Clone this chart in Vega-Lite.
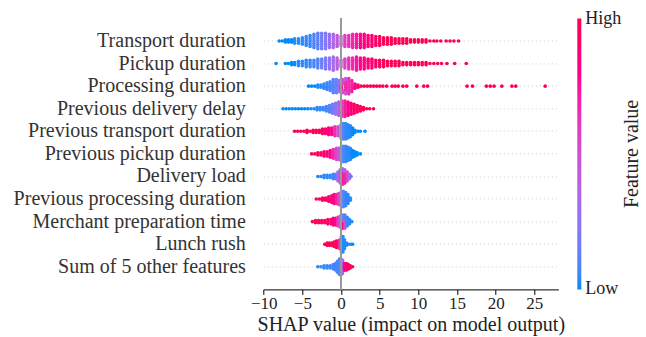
{
  "$schema": "https://vega.github.io/schema/vega-lite/v6.json",
  "autosize": {"type": "none"},
  "padding": {"left": 263.3, "top": 18.4, "right": 87.7, "bottom": 47.6},
  "width": 295,
  "height": 271,
  "background": "white",
  "config": {
    "font": "Liberation Serif",
    "view": {"stroke": null},
    "style": {
      "guide-label": {"font": "Liberation Serif"},
      "guide-title": {"font": "Liberation Serif"}
    },
    "axis": {"labelFont": "Liberation Serif", "titleFont": "Liberation Serif"},
    "legend": {"labelFont": "Liberation Serif", "titleFont": "Liberation Serif"},
    "title": {"font": "Liberation Serif"}
  },
  "title": {
    "text": "Feature value",
    "orient": "right",
    "angle": 270,
    "baseline": "top",
    "frame": "group",
    "anchor": "middle",
    "offset": -19,
    "font": "Liberation Serif",
    "fontSize": 20,
    "fontWeight": "normal",
    "color": "#222222"
  },
  "data": {
    "values": [
      {"f": "Transport duration", "x": -8.0, "j": [0], "c": 0},
      {"f": "Transport duration", "x": -7.6, "j": [0], "c": 0},
      {"f": "Transport duration", "x": -7.2, "j": [-1, 1], "c": 0},
      {"f": "Transport duration", "x": -6.8, "j": [-1, 1], "c": 0},
      {"f": "Transport duration", "x": -6.4, "j": [-1, 1], "c": 0},
      {"f": "Transport duration", "x": -6.0, "j": [-2, 0, 2], "c": 0.02},
      {"f": "Transport duration", "x": -5.5, "j": [-2, 0, 2], "c": 0.02},
      {"f": "Transport duration", "x": -5.0, "j": [-3, -1, 1, 3], "c": 0.03},
      {"f": "Transport duration", "x": -4.5, "j": [-4, -2, 0, 2, 4], "c": 0.04},
      {"f": "Transport duration", "x": -4.0, "j": [-5, -3, -1, 1, 3, 5], "c": 0.05},
      {"f": "Transport duration", "x": -3.5, "j": [-6, -4, -2, 0, 2, 4, 6], "c": 0.08},
      {"f": "Transport duration", "x": -3.0, "j": [-7, -5, -3, -1, 1, 3, 5, 7], "c": 0.12},
      {"f": "Transport duration", "x": -2.5, "j": [-7, -5, -3, -1, 1, 3, 5, 7], "c": 0.17},
      {"f": "Transport duration", "x": -2.0, "j": [-7, -5, -3, -1, 1, 3, 5, 7], "c": 0.22},
      {"f": "Transport duration", "x": -1.5, "j": [-6, -4, -2, 0, 2, 4, 6], "c": 0.28},
      {"f": "Transport duration", "x": -1.0, "j": [-6, -4, -2, 0, 2, 4, 6], "c": 0.35},
      {"f": "Transport duration", "x": -0.5, "j": [-5, -3, -1, 1, 3, 5], "c": 0.42},
      {"f": "Transport duration", "x": 0.0, "j": [-4, -2, 0, 2, 4], "c": 0.5},
      {"f": "Transport duration", "x": 0.5, "j": [-5, -3, -1, 1, 3, 5], "c": 0.57},
      {"f": "Transport duration", "x": 1.0, "j": [-5, -3, -1, 1, 3, 5], "c": 0.63},
      {"f": "Transport duration", "x": 1.5, "j": [-6, -4, -2, 0, 2, 4, 6], "c": 0.68},
      {"f": "Transport duration", "x": 2.0, "j": [-6, -4, -2, 0, 2, 4, 6], "c": 0.73},
      {"f": "Transport duration", "x": 2.5, "j": [-6, -4, -2, 0, 2, 4, 6], "c": 0.78},
      {"f": "Transport duration", "x": 3.0, "j": [-6, -4, -2, 0, 2, 4, 6], "c": 0.82},
      {"f": "Transport duration", "x": 3.5, "j": [-5, -3, -1, 1, 3, 5], "c": 0.86},
      {"f": "Transport duration", "x": 4.0, "j": [-5, -3, -1, 1, 3, 5], "c": 0.9},
      {"f": "Transport duration", "x": 4.5, "j": [-4, -2, 0, 2, 4], "c": 0.93},
      {"f": "Transport duration", "x": 5.0, "j": [-4, -2, 0, 2, 4], "c": 0.96},
      {"f": "Transport duration", "x": 5.5, "j": [-3, -1, 1, 3], "c": 0.97},
      {"f": "Transport duration", "x": 6.0, "j": [-3, -1, 1, 3], "c": 0.98},
      {"f": "Transport duration", "x": 6.5, "j": [-3, -1, 1, 3], "c": 1},
      {"f": "Transport duration", "x": 7.0, "j": [-2, 0, 2], "c": 1},
      {"f": "Transport duration", "x": 7.5, "j": [-2, 0, 2], "c": 1},
      {"f": "Transport duration", "x": 8.0, "j": [-2, 0, 2], "c": 1},
      {"f": "Transport duration", "x": 8.5, "j": [-2, 0, 2], "c": 1},
      {"f": "Transport duration", "x": 9.0, "j": [-1, 1], "c": 1},
      {"f": "Transport duration", "x": 9.5, "j": [-1, 1], "c": 1},
      {"f": "Transport duration", "x": 10.0, "j": [-1, 1], "c": 1},
      {"f": "Transport duration", "x": 10.5, "j": [-1, 1], "c": 1},
      {"f": "Transport duration", "x": 11.0, "j": [-1, 1], "c": 1},
      {"f": "Transport duration", "x": 11.5, "j": [0], "c": 1},
      {"f": "Transport duration", "x": 12.0, "j": [0], "c": 1},
      {"f": "Transport duration", "x": 12.4, "j": [0], "c": 1},
      {"f": "Transport duration", "x": 12.9, "j": [0], "c": 1},
      {"f": "Transport duration", "x": 13.6, "j": [0], "c": 1},
      {"f": "Transport duration", "x": 14.1, "j": [0], "c": 1},
      {"f": "Transport duration", "x": 14.6, "j": [0], "c": 1},
      {"f": "Transport duration", "x": 15.2, "j": [0], "c": 1},

      {"f": "Pickup duration", "x": -8.4, "j": [0], "c": 0},
      {"f": "Pickup duration", "x": -7.2, "j": [0], "c": 0},
      {"f": "Pickup duration", "x": -6.8, "j": [0], "c": 0},
      {"f": "Pickup duration", "x": -6.4, "j": [-1, 1], "c": 0},
      {"f": "Pickup duration", "x": -6.0, "j": [-1, 1], "c": 0},
      {"f": "Pickup duration", "x": -5.5, "j": [-2, 0, 2], "c": 0.02},
      {"f": "Pickup duration", "x": -5.0, "j": [-2, 0, 2], "c": 0.03},
      {"f": "Pickup duration", "x": -4.5, "j": [-3, -1, 1, 3], "c": 0.04},
      {"f": "Pickup duration", "x": -4.0, "j": [-3, -1, 1, 3], "c": 0.05},
      {"f": "Pickup duration", "x": -3.5, "j": [-3, -1, 1, 3], "c": 0.07},
      {"f": "Pickup duration", "x": -3.0, "j": [-4, -2, 0, 2, 4], "c": 0.1},
      {"f": "Pickup duration", "x": -2.5, "j": [-4, -2, 0, 2, 4], "c": 0.14},
      {"f": "Pickup duration", "x": -2.0, "j": [-5, -3, -1, 1, 3, 5], "c": 0.2},
      {"f": "Pickup duration", "x": -1.5, "j": [-5, -3, -1, 1, 3, 5], "c": 0.26},
      {"f": "Pickup duration", "x": -1.0, "j": [-6, -4, -2, 0, 2, 4, 6], "c": 0.33},
      {"f": "Pickup duration", "x": -0.5, "j": [-5, -3, -1, 1, 3, 5], "c": 0.4},
      {"f": "Pickup duration", "x": 0.0, "j": [-3, -1, 1, 3], "c": 0.48},
      {"f": "Pickup duration", "x": 0.5, "j": [-4, -2, 0, 2, 4], "c": 0.55},
      {"f": "Pickup duration", "x": 1.0, "j": [-5, -3, -1, 1, 3, 5], "c": 0.62},
      {"f": "Pickup duration", "x": 1.5, "j": [-5, -3, -1, 1, 3, 5], "c": 0.68},
      {"f": "Pickup duration", "x": 2.0, "j": [-6, -4, -2, 0, 2, 4, 6], "c": 0.73},
      {"f": "Pickup duration", "x": 2.5, "j": [-5, -3, -1, 1, 3, 5], "c": 0.78},
      {"f": "Pickup duration", "x": 3.0, "j": [-5, -3, -1, 1, 3, 5], "c": 0.83},
      {"f": "Pickup duration", "x": 3.5, "j": [-4, -2, 0, 2, 4], "c": 0.87},
      {"f": "Pickup duration", "x": 4.0, "j": [-4, -2, 0, 2, 4], "c": 0.9},
      {"f": "Pickup duration", "x": 4.5, "j": [-3, -1, 1, 3], "c": 0.93},
      {"f": "Pickup duration", "x": 5.0, "j": [-3, -1, 1, 3], "c": 0.96},
      {"f": "Pickup duration", "x": 5.5, "j": [-3, -1, 1, 3], "c": 0.98},
      {"f": "Pickup duration", "x": 6.0, "j": [-2, 0, 2], "c": 1},
      {"f": "Pickup duration", "x": 6.5, "j": [-2, 0, 2], "c": 1},
      {"f": "Pickup duration", "x": 7.0, "j": [-2, 0, 2], "c": 1},
      {"f": "Pickup duration", "x": 7.5, "j": [-2, 0, 2], "c": 1},
      {"f": "Pickup duration", "x": 8.0, "j": [-1, 1], "c": 1},
      {"f": "Pickup duration", "x": 8.5, "j": [-1, 1], "c": 1},
      {"f": "Pickup duration", "x": 9.0, "j": [-1, 1], "c": 1},
      {"f": "Pickup duration", "x": 9.5, "j": [-1, 1], "c": 1},
      {"f": "Pickup duration", "x": 10.0, "j": [-1, 1], "c": 1},
      {"f": "Pickup duration", "x": 10.5, "j": [-1, 1], "c": 1},
      {"f": "Pickup duration", "x": 11.0, "j": [-1, 1], "c": 1},
      {"f": "Pickup duration", "x": 11.5, "j": [0], "c": 1},
      {"f": "Pickup duration", "x": 12.0, "j": [0], "c": 1},
      {"f": "Pickup duration", "x": 12.5, "j": [0], "c": 1},
      {"f": "Pickup duration", "x": 13.0, "j": [0], "c": 1},
      {"f": "Pickup duration", "x": 13.7, "j": [0], "c": 1},
      {"f": "Pickup duration", "x": 14.7, "j": [0], "c": 1},
      {"f": "Pickup duration", "x": 16.2, "j": [0], "c": 1},

      {"f": "Processing duration", "x": -4.2, "j": [0], "c": 0},
      {"f": "Processing duration", "x": -3.8, "j": [0], "c": 0},
      {"f": "Processing duration", "x": -3.4, "j": [0], "c": 0},
      {"f": "Processing duration", "x": -3.0, "j": [-1, 1], "c": 0.02},
      {"f": "Processing duration", "x": -2.6, "j": [-1, 1], "c": 0.03},
      {"f": "Processing duration", "x": -2.2, "j": [-2, 0, 2], "c": 0.04},
      {"f": "Processing duration", "x": -1.8, "j": [-3, -1, 1, 3], "c": 0.05},
      {"f": "Processing duration", "x": -1.4, "j": [-4, -2, 0, 2, 4], "c": 0.07},
      {"f": "Processing duration", "x": -1.0, "j": [-6, -4, -2, 0, 2, 4, 6], "c": 0.1},
      {"f": "Processing duration", "x": -0.6, "j": [-6, -4, -2, 0, 2, 4, 6], "c": 0.15},
      {"f": "Processing duration", "x": -0.2, "j": [-5, -3, -1, 1, 3, 5], "c": 0.25},
      {"f": "Processing duration", "x": 0.05, "j": [0, 2], "c": 1},
      {"f": "Processing duration", "x": 0.2, "j": [-6, -4, -2, 4, 6], "c": 0.5},
      {"f": "Processing duration", "x": 0.6, "j": [-7, -5, 5, 7], "c": 0.45},
      {"f": "Processing duration", "x": 0.6, "j": [-3, -1, 1, 3], "c": 0.68},
      {"f": "Processing duration", "x": 1.0, "j": [-7, -5, -3, -1, 1, 3, 5, 7], "c": 0.65},
      {"f": "Processing duration", "x": 1.4, "j": [-5, -3, -1, 1, 3, 5], "c": 0.7},
      {"f": "Processing duration", "x": 1.8, "j": [-2, 0, 2], "c": 0.8},
      {"f": "Processing duration", "x": 2.2, "j": [-1, 1], "c": 0.9},
      {"f": "Processing duration", "x": 2.6, "j": [0], "c": 1},
      {"f": "Processing duration", "x": 3.0, "j": [0], "c": 1},
      {"f": "Processing duration", "x": 3.4, "j": [0], "c": 1},
      {"f": "Processing duration", "x": 3.8, "j": [0], "c": 1},
      {"f": "Processing duration", "x": 4.2, "j": [0], "c": 1},
      {"f": "Processing duration", "x": 4.6, "j": [0], "c": 1},
      {"f": "Processing duration", "x": 5.0, "j": [0], "c": 1},
      {"f": "Processing duration", "x": 5.4, "j": [0], "c": 1},
      {"f": "Processing duration", "x": 5.9, "j": [0], "c": 1},
      {"f": "Processing duration", "x": 6.6, "j": [0], "c": 1},
      {"f": "Processing duration", "x": 7.0, "j": [0], "c": 1},
      {"f": "Processing duration", "x": 7.4, "j": [0], "c": 1},
      {"f": "Processing duration", "x": 8.0, "j": [0], "c": 1},
      {"f": "Processing duration", "x": 8.5, "j": [0], "c": 1},
      {"f": "Processing duration", "x": 9.8, "j": [0], "c": 1},
      {"f": "Processing duration", "x": 10.7, "j": [0], "c": 1},
      {"f": "Processing duration", "x": 11.2, "j": [0], "c": 1},
      {"f": "Processing duration", "x": 16.3, "j": [0], "c": 1},
      {"f": "Processing duration", "x": 17.0, "j": [0], "c": 1},
      {"f": "Processing duration", "x": 18.8, "j": [0], "c": 1},
      {"f": "Processing duration", "x": 19.3, "j": [0], "c": 1},
      {"f": "Processing duration", "x": 19.8, "j": [0], "c": 1},
      {"f": "Processing duration", "x": 20.8, "j": [0], "c": 1},
      {"f": "Processing duration", "x": 22.1, "j": [0], "c": 1},
      {"f": "Processing duration", "x": 22.6, "j": [0], "c": 1},
      {"f": "Processing duration", "x": 26.4, "j": [0], "c": 1},

      {"f": "Previous delivery delay", "x": -7.5, "j": [0], "c": 0},
      {"f": "Previous delivery delay", "x": -7.1, "j": [0], "c": 0},
      {"f": "Previous delivery delay", "x": -6.7, "j": [0], "c": 0},
      {"f": "Previous delivery delay", "x": -6.3, "j": [0], "c": 0},
      {"f": "Previous delivery delay", "x": -5.9, "j": [0], "c": 0},
      {"f": "Previous delivery delay", "x": -5.5, "j": [0], "c": 0},
      {"f": "Previous delivery delay", "x": -5.1, "j": [0], "c": 0},
      {"f": "Previous delivery delay", "x": -4.7, "j": [0], "c": 0},
      {"f": "Previous delivery delay", "x": -4.3, "j": [0], "c": 0},
      {"f": "Previous delivery delay", "x": -3.9, "j": [0], "c": 0.02},
      {"f": "Previous delivery delay", "x": -3.5, "j": [0], "c": 0.02},
      {"f": "Previous delivery delay", "x": -3.1, "j": [-1, 1], "c": 0.03},
      {"f": "Previous delivery delay", "x": -2.7, "j": [-1, 1], "c": 0.04},
      {"f": "Previous delivery delay", "x": -2.3, "j": [-1, 1], "c": 0.05},
      {"f": "Previous delivery delay", "x": -1.9, "j": [-2, 0, 2], "c": 0.07},
      {"f": "Previous delivery delay", "x": -1.5, "j": [-3, -1, 1, 3], "c": 0.1},
      {"f": "Previous delivery delay", "x": -1.1, "j": [-4, -2, 0, 2, 4], "c": 0.15},
      {"f": "Previous delivery delay", "x": -0.7, "j": [-5, -3, -1, 1, 3, 5], "c": 0.25},
      {"f": "Previous delivery delay", "x": -0.3, "j": [-6, -4, -2, 0, 2, 4, 6], "c": 0.4},
      {"f": "Previous delivery delay", "x": 0.1, "j": [-7, -5, -3, -1, 1, 3, 5, 7], "c": 0.6},
      {"f": "Previous delivery delay", "x": 0.5, "j": [-7, -5, -3, -1, 1, 3, 5, 7], "c": 0.72},
      {"f": "Previous delivery delay", "x": 0.9, "j": [-6, -4, -2, 0, 2, 4, 6], "c": 0.82},
      {"f": "Previous delivery delay", "x": 1.3, "j": [-5, -3, -1, 1, 3, 5], "c": 0.88},
      {"f": "Previous delivery delay", "x": 1.7, "j": [-4, -2, 0, 2, 4], "c": 0.92},
      {"f": "Previous delivery delay", "x": 2.1, "j": [-3, -1, 1, 3], "c": 0.95},
      {"f": "Previous delivery delay", "x": 2.5, "j": [-2, 0, 2], "c": 0.97},
      {"f": "Previous delivery delay", "x": 2.9, "j": [-1, 1], "c": 1},
      {"f": "Previous delivery delay", "x": 3.3, "j": [0], "c": 1},
      {"f": "Previous delivery delay", "x": 3.7, "j": [0], "c": 1},
      {"f": "Previous delivery delay", "x": 4.2, "j": [0], "c": 1},

      {"f": "Previous transport duration", "x": -6.0, "j": [0], "c": 1},
      {"f": "Previous transport duration", "x": -5.6, "j": [0], "c": 1},
      {"f": "Previous transport duration", "x": -5.2, "j": [0], "c": 1},
      {"f": "Previous transport duration", "x": -4.8, "j": [0], "c": 1},
      {"f": "Previous transport duration", "x": -4.4, "j": [-1, 1], "c": 1},
      {"f": "Previous transport duration", "x": -4.0, "j": [0], "c": 1},
      {"f": "Previous transport duration", "x": -3.6, "j": [-1, 1], "c": 1},
      {"f": "Previous transport duration", "x": -3.2, "j": [-1, 1], "c": 0.97},
      {"f": "Previous transport duration", "x": -2.8, "j": [-1, 1], "c": 0.95},
      {"f": "Previous transport duration", "x": -2.4, "j": [-2, 0, 2], "c": 0.92},
      {"f": "Previous transport duration", "x": -2.0, "j": [-2, 0, 2], "c": 0.9},
      {"f": "Previous transport duration", "x": -1.6, "j": [-3, -1, 1, 3], "c": 0.85},
      {"f": "Previous transport duration", "x": -1.2, "j": [-3, -1, 1, 3], "c": 0.78},
      {"f": "Previous transport duration", "x": -0.8, "j": [-4, -2, 0, 2, 4], "c": 0.65},
      {"f": "Previous transport duration", "x": -0.4, "j": [-4, -2, 0, 2, 4], "c": 0.5},
      {"f": "Previous transport duration", "x": 0.0, "j": [-6, -4, -2, 0, 2, 4, 6], "c": 0.25},
      {"f": "Previous transport duration", "x": 0.3, "j": [-7, -5, -3, -1, 1, 3, 5, 7], "c": 0.1},
      {"f": "Previous transport duration", "x": 0.6, "j": [-7, -5, -3, -1, 1, 3, 5, 7], "c": 0.05},
      {"f": "Previous transport duration", "x": 0.9, "j": [-6, -4, -2, 0, 2, 4, 6], "c": 0.03},
      {"f": "Previous transport duration", "x": 1.2, "j": [-5, -3, -1, 1, 3, 5], "c": 0.02},
      {"f": "Previous transport duration", "x": 1.5, "j": [-3, -1, 1, 3], "c": 0},
      {"f": "Previous transport duration", "x": 1.8, "j": [-1, 1], "c": 0},
      {"f": "Previous transport duration", "x": 2.2, "j": [0], "c": 0},
      {"f": "Previous transport duration", "x": 2.5, "j": [0], "c": 0},
      {"f": "Previous transport duration", "x": 3.1, "j": [0], "c": 0},

      {"f": "Previous pickup duration", "x": -3.8, "j": [0], "c": 0.95},
      {"f": "Previous pickup duration", "x": -3.4, "j": [0], "c": 0.95},
      {"f": "Previous pickup duration", "x": -3.0, "j": [-1, 1], "c": 0.95},
      {"f": "Previous pickup duration", "x": -2.6, "j": [-1, 1], "c": 0.92},
      {"f": "Previous pickup duration", "x": -2.2, "j": [-2, 0, 2], "c": 0.88},
      {"f": "Previous pickup duration", "x": -1.8, "j": [-2, 0, 2], "c": 0.84},
      {"f": "Previous pickup duration", "x": -1.4, "j": [-3, -1, 1, 3], "c": 0.78},
      {"f": "Previous pickup duration", "x": -1.0, "j": [-4, -2, 0, 2, 4], "c": 0.68},
      {"f": "Previous pickup duration", "x": -0.6, "j": [-5, -3, -1, 1, 3, 5], "c": 0.55},
      {"f": "Previous pickup duration", "x": -0.3, "j": [-5, -3, -1, 1, 3, 5], "c": 0.42},
      {"f": "Previous pickup duration", "x": 0.0, "j": [-6, -4, -2, 0, 2, 4, 6], "c": 0.25},
      {"f": "Previous pickup duration", "x": 0.3, "j": [-7, -5, -3, -1, 1, 3, 5, 7], "c": 0.1},
      {"f": "Previous pickup duration", "x": 0.6, "j": [-7, -5, -3, -1, 1, 3, 5, 7], "c": 0.05},
      {"f": "Previous pickup duration", "x": 0.9, "j": [-6, -4, -2, 0, 2, 4, 6], "c": 0.03},
      {"f": "Previous pickup duration", "x": 1.2, "j": [-5, -3, -1, 1, 3, 5], "c": 0.02},
      {"f": "Previous pickup duration", "x": 1.5, "j": [-3, -1, 1, 3], "c": 0},
      {"f": "Previous pickup duration", "x": 1.8, "j": [-2, 0, 2], "c": 0},
      {"f": "Previous pickup duration", "x": 2.1, "j": [-1, 1], "c": 0},
      {"f": "Previous pickup duration", "x": 2.5, "j": [0], "c": 0},

      {"f": "Delivery load", "x": -3.0, "j": [0], "c": 0.02},
      {"f": "Delivery load", "x": -2.6, "j": [0], "c": 0.02},
      {"f": "Delivery load", "x": -2.2, "j": [-1, 1], "c": 0.03},
      {"f": "Delivery load", "x": -1.8, "j": [-1, 1], "c": 0.03},
      {"f": "Delivery load", "x": -1.4, "j": [-1, 1], "c": 0.04},
      {"f": "Delivery load", "x": -1.0, "j": [-2, 0, 2], "c": 0.05},
      {"f": "Delivery load", "x": -0.7, "j": [-2, 0, 2], "c": 0.08},
      {"f": "Delivery load", "x": -0.4, "j": [-4, -2, 0, 2, 4], "c": 0.25},
      {"f": "Delivery load", "x": -0.1, "j": [-6, -4, -2, 0, 2, 4, 6], "c": 0.5},
      {"f": "Delivery load", "x": 0.2, "j": [-7, -5], "c": 0.3},
      {"f": "Delivery load", "x": 0.2, "j": [-3, -1, 1, 3, 5, 7], "c": 0.72},
      {"f": "Delivery load", "x": 0.5, "j": [-6, -4], "c": 0.35},
      {"f": "Delivery load", "x": 0.5, "j": [-2, 0, 2, 4, 6], "c": 0.7},
      {"f": "Delivery load", "x": 0.8, "j": [-4, -2, 0, 2, 4], "c": 0.55},
      {"f": "Delivery load", "x": 1.1, "j": [-2, 0, 2], "c": 0.35},
      {"f": "Delivery load", "x": 1.3, "j": [0], "c": 0.1},

      {"f": "Previous processing duration", "x": -3.2, "j": [0], "c": 0.95},
      {"f": "Previous processing duration", "x": -2.8, "j": [0], "c": 0.95},
      {"f": "Previous processing duration", "x": -2.4, "j": [-1, 1], "c": 0.95},
      {"f": "Previous processing duration", "x": -2.0, "j": [-1, 1], "c": 0.93},
      {"f": "Previous processing duration", "x": -1.6, "j": [-2, 0, 2], "c": 0.9},
      {"f": "Previous processing duration", "x": -1.2, "j": [-3, -1, 1, 3], "c": 0.86},
      {"f": "Previous processing duration", "x": -0.9, "j": [-4, -2, 0, 2, 4], "c": 0.8},
      {"f": "Previous processing duration", "x": -0.6, "j": [-4, -2, 0, 2, 4], "c": 0.7},
      {"f": "Previous processing duration", "x": -0.3, "j": [-5, -3, -1, 1, 3, 5], "c": 0.55},
      {"f": "Previous processing duration", "x": 0.0, "j": [-6, -4, -2, 0, 2, 4, 6], "c": 0.32},
      {"f": "Previous processing duration", "x": 0.3, "j": [-7, -5, -3, -1, 1, 3, 5, 7], "c": 0.12},
      {"f": "Previous processing duration", "x": 0.6, "j": [-6, -4, -2, 0, 2, 4, 6], "c": 0.05},
      {"f": "Previous processing duration", "x": 0.9, "j": [-4, -2, 0, 2, 4], "c": 0.03},
      {"f": "Previous processing duration", "x": 1.2, "j": [-1, 1], "c": 0.02},

      {"f": "Merchant preparation time", "x": -3.7, "j": [0], "c": 0.95},
      {"f": "Merchant preparation time", "x": -3.3, "j": [-1, 1], "c": 0.95},
      {"f": "Merchant preparation time", "x": -2.9, "j": [-1, 1], "c": 0.95},
      {"f": "Merchant preparation time", "x": -2.5, "j": [-1, 1], "c": 0.95},
      {"f": "Merchant preparation time", "x": -2.1, "j": [-1, 1], "c": 0.95},
      {"f": "Merchant preparation time", "x": -1.7, "j": [-2, 0, 2], "c": 0.93},
      {"f": "Merchant preparation time", "x": -1.3, "j": [-2, 0, 2], "c": 0.9},
      {"f": "Merchant preparation time", "x": -1.0, "j": [-3, -1, 1, 3], "c": 0.86},
      {"f": "Merchant preparation time", "x": -0.7, "j": [-3, -1, 1, 3], "c": 0.78},
      {"f": "Merchant preparation time", "x": -0.4, "j": [-4, -2, 0, 2, 4], "c": 0.6},
      {"f": "Merchant preparation time", "x": -0.1, "j": [-5, -3, -1, 1, 3, 5], "c": 0.45},
      {"f": "Merchant preparation time", "x": 0.2, "j": [-6, -4, -2, 0], "c": 0.15},
      {"f": "Merchant preparation time", "x": 0.2, "j": [2, 4, 6], "c": 0.8},
      {"f": "Merchant preparation time", "x": 0.5, "j": [-6, -4, -2], "c": 0.08},
      {"f": "Merchant preparation time", "x": 0.5, "j": [0, 2, 4, 6], "c": 0.5},
      {"f": "Merchant preparation time", "x": 0.8, "j": [-4, -2, 0, 2, 4], "c": 0.05},
      {"f": "Merchant preparation time", "x": 1.1, "j": [-2, 0, 2], "c": 0.03},
      {"f": "Merchant preparation time", "x": 1.4, "j": [0], "c": 0.02},

      {"f": "Lunch rush", "x": -2.1, "j": [0], "c": 1},
      {"f": "Lunch rush", "x": -1.8, "j": [-1, 1], "c": 1},
      {"f": "Lunch rush", "x": -1.5, "j": [-1, 1], "c": 1},
      {"f": "Lunch rush", "x": -1.2, "j": [-1, 1], "c": 0.98},
      {"f": "Lunch rush", "x": -0.9, "j": [-2, 0, 2], "c": 0.97},
      {"f": "Lunch rush", "x": -0.6, "j": [-3, -1, 1, 3], "c": 0.95},
      {"f": "Lunch rush", "x": -0.35, "j": [-3, -1, 1, 3], "c": 0.9},
      {"f": "Lunch rush", "x": -0.15, "j": [-4, -2, 0, 2, 4], "c": 0.6},
      {"f": "Lunch rush", "x": 0.05, "j": [-7, -5, -3, -1, 1, 3, 5, 7], "c": 0.05},
      {"f": "Lunch rush", "x": 0.25, "j": [-7, -5, -3, -1, 1, 3, 5, 7], "c": 0.03},
      {"f": "Lunch rush", "x": 0.45, "j": [-4, -2, 0, 2, 4], "c": 0.02},
      {"f": "Lunch rush", "x": 0.7, "j": [-1, 1], "c": 0.02},
      {"f": "Lunch rush", "x": 1.0, "j": [0], "c": 0.02},
      {"f": "Lunch rush", "x": 1.3, "j": [0], "c": 0.02},
      {"f": "Lunch rush", "x": 1.5, "j": [0], "c": 0},

      {"f": "Sum of 5 other features", "x": -3.0, "j": [0], "c": 0.03},
      {"f": "Sum of 5 other features", "x": -2.6, "j": [0], "c": 0.03},
      {"f": "Sum of 5 other features", "x": -2.2, "j": [-1, 1], "c": 0.04},
      {"f": "Sum of 5 other features", "x": -1.8, "j": [-1, 1], "c": 0.05},
      {"f": "Sum of 5 other features", "x": -1.4, "j": [-1, 1], "c": 0.05},
      {"f": "Sum of 5 other features", "x": -1.0, "j": [-2, 0, 2], "c": 0.06},
      {"f": "Sum of 5 other features", "x": -0.7, "j": [-3, -1, 1, 3], "c": 0.07},
      {"f": "Sum of 5 other features", "x": -0.45, "j": [-5, -3, -1, 1, 3, 5], "c": 0.07},
      {"f": "Sum of 5 other features", "x": -0.2, "j": [-7, -5, -3, -1, 1, 3, 5, 7], "c": 0.08},
      {"f": "Sum of 5 other features", "x": 0.0, "j": [-7, -5, -3, -1, 1, 3, 5, 7], "c": 0.12},
      {"f": "Sum of 5 other features", "x": 0.2, "j": [-6, -4, -2, 0, 2, 4, 6], "c": 0.35},
      {"f": "Sum of 5 other features", "x": 0.45, "j": [-3, -1, 1, 3], "c": 0.8},
      {"f": "Sum of 5 other features", "x": 0.7, "j": [-3, -1, 1, 3], "c": 0.9},
      {"f": "Sum of 5 other features", "x": 0.95, "j": [-2, 0, 2], "c": 0.95},
      {"f": "Sum of 5 other features", "x": 1.2, "j": [-1, 1], "c": 0.97},
      {"f": "Sum of 5 other features", "x": 1.5, "j": [0], "c": 1}
    ]
  },
  "layer": [
    {
      "transform": [{"flatten": ["j"]}],
      "mark": {"type": "circle", "size": 13, "opacity": 1},
      "encoding": {
        "x": {
          "field": "x",
          "type": "quantitative",
          "scale": {"domain": [-10.05, 28.1], "nice": false, "zero": false},
          "axis": {
            "title": "SHAP value (impact on model output)",
            "values": [-10, -5, 0, 5, 10, 15, 20, 25],
            "grid": false,
            "labelFlush": false,
            "domainColor": "#000000",
            "domainWidth": 1,
            "tickColor": "#000000",
            "tickSize": 5,
            "labelFont": "Liberation Serif",
            "labelFontSize": 17,
            "labelFontWeight": "normal",
            "labelColor": "#222222",
            "labelPadding": 1,
            "titleFont": "Liberation Serif",
            "titleFontSize": 20,
            "titleFontWeight": "normal",
            "titleColor": "#222222",
            "titlePadding": 3
          }
        },
        "y": {
          "field": "f",
          "type": "nominal",
          "scale": {
            "domain": [
              "Transport duration",
              "Pickup duration",
              "Processing duration",
              "Previous delivery delay",
              "Previous transport duration",
              "Previous pickup duration",
              "Delivery load",
              "Previous processing duration",
              "Merchant preparation time",
              "Lunch rush",
              "Sum of 5 other features"
            ],
            "paddingInner": 0,
            "paddingOuter": 0.5
          },
          "axis": {
            "title": null,
            "domain": false,
            "ticks": false,
            "labelFont": "Liberation Serif",
            "labelFontSize": 20,
            "labelColor": "#333333",
            "labelPadding": 18,
            "labelLimit": 400,
            "grid": true,
            "bandPosition": 0.5,
            "gridColor": "#cccccc",
            "gridDash": [1, 3],
            "gridWidth": 1
          }
        },
        "yOffset": {
          "field": "j",
          "type": "quantitative",
          "scale": {"domain": [-10, 10], "range": [0.29, 22.29]}
        },
        "color": {
          "field": "c",
          "type": "quantitative",
          "scale": {"domain": [0, 1], "range": ["#008bfb", "#ff0051"], "interpolate": "hcl"},
          "legend": {
            "title": null,
            "orient": "right",
            "direction": "vertical",
            "gradientLength": 271,
            "gradientThickness": 4,
            "gradientStrokeWidth": 0,
            "values": [0.002, 0.998],
            "labelExpr": "datum.value > 0.5 ? 'High' : 'Low'",
            "labelFont": "Liberation Serif",
            "labelFontSize": 18,
            "labelColor": "#222222",
            "labelOffset": 4,
            "offset": 19,
            "padding": 0
          }
        }
      }
    },
    {
      "mark": {"type": "rule", "color": "#999999", "strokeWidth": 1.2},
      "encoding": {"x": {"datum": 0, "type": "quantitative"}}
    }
  ]
}
